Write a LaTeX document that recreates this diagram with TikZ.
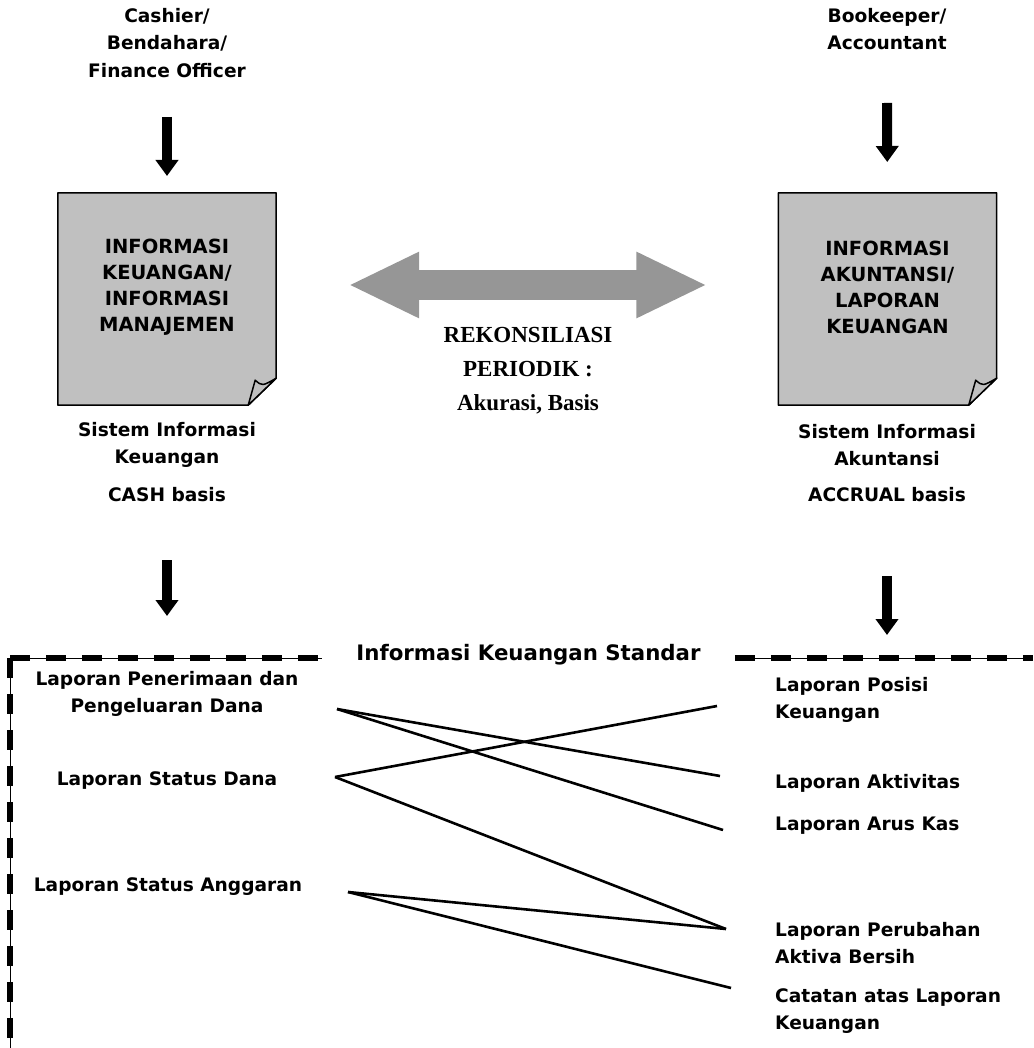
\documentclass[tikz,border=0pt]{standalone}
\usepackage{fontspec}
\setmainfont{DejaVu Sans}
\newfontfamily\reconfont{Liberation Serif}
\usepackage{xcolor}
\usepackage{tikz}
\usetikzlibrary{arrows.meta}
\usetikzlibrary{positioning}
\definecolor{docgray}{RGB}{192,192,192}
\definecolor{recongray}{RGB}{150,150,150}
\tikzstyle{role} = [font=\bfseries\fontsize{18.6}{27.5}\selectfont, align=center, inner sep=0pt]
\tikzstyle{report} = [font=\bfseries\fontsize{18.6}{27}\selectfont, align=center, inner sep=0pt]
\tikzstyle{rreport} = [report, anchor=west, align=left]
\tikzstyle{docbox} = [rectangle, minimum width=218pt, minimum height=212pt, inner sep=0pt]
\tikzstyle{doctext} = [font=\bfseries\fontsize{19.5}{26}\selectfont, align=center, inner sep=0pt]
\tikzstyle{docfill} = [fill=docgray, draw=black, line width=1.5pt, line join=round]
\tikzstyle{fatarrow} = [draw, line width=10pt, -{Triangle[width=22pt,length=16pt]}]
\tikzstyle{twinarrow} = [draw=recongray, line width=29pt,
    {Triangle[width=61pt,length=71pt]}-{Triangle[width=61pt,length=71pt]}]
\tikzstyle{link} = [draw, line width=2.6pt]
\tikzstyle{frame} = [draw, line width=1pt,
    postaction={draw, line width=5.5pt, dash pattern=on 20pt off 16pt}]
% page with a turned corner, drawn on a docbox node
\newcommand{\docpage}[1]{%
  \filldraw[docfill] (#1.north west) -- (#1.north east) -- ([yshift=27pt]#1.south east)
    -- ([xshift=-28pt]#1.south east) -- (#1.south west) -- cycle;
  \filldraw[docfill] ([xshift=-28pt]#1.south east) -- ([xshift=-21pt,yshift=25pt]#1.south east)
    .. controls ([xshift=-14pt,yshift=19pt]#1.south east) .. ([yshift=27pt]#1.south east) -- cycle;}

\begin{document}
\begin{tikzpicture}[x=1pt, y=-1pt]
  \useasboundingbox (0,0) rectangle (1033,1048);
  % Place nodes
  \node [role] (cashier) at (167,43) {Cashier/\\Bendahara/\\Finance Officer};
  \node [role] (bookkeeper) at (887,29) {Bookeeper/\\Accountant};

  \node [docbox] (kbox) at (167,299) {};
  \docpage{kbox}
  \node [doctext] (ktext) at (167,287) {INFORMASI\\KEUANGAN/\\INFORMASI\\MANAJEMEN};
  \node [docbox] (abox) at (887.5,299) {};
  \docpage{abox}
  \node [doctext] (atext) at (887.5,287) {INFORMASI\\AKUNTANSI/\\LAPORAN\\KEUANGAN};

  \node [role] (sik) at (167,445) {Sistem Informasi\\Keuangan};
  \node [role] (cash) at (167,495) {CASH basis};
  \node [role] (sia) at (887,445) {Sistem Informasi\\Akuntansi};
  \node [role] (accrual) at (887,495) {ACCRUAL basis};

  \node [font=\reconfont\bfseries\fontsize{23}{34}\selectfont, align=center, inner sep=0pt]
    (recon) at (528,371) {REKONSILIASI\\PERIODIK :\\Akurasi, Basis};

  \node [report, font=\bfseries\fontsize{21.3}{27}\selectfont, inner xsep=34pt]
    (standar) at (528.5,655) {Informasi Keuangan Standar};
  \coordinate (corner) at (10,658);
  \coordinate (leftend) at (10,1048);
  \coordinate (rightend) at (1033,658);

  \node [report] (penerimaan) at (167,694) {Laporan Penerimaan dan\\Pengeluaran Dana};
  \node [report] (statusdana) at (167,781) {Laporan Status Dana};
  \node [report] (anggaran) at (168,887) {Laporan Status Anggaran};

  \node [rreport] (posisi) at (775,699.5) {Laporan Posisi\\Keuangan};
  \node [rreport] (aktivitas) at (775,783) {Laporan Aktivitas};
  \node [rreport] (aruskas) at (775,826) {Laporan Arus Kas};
  \node [rreport] (perubahan) at (775,943) {Laporan Perubahan\\Aktiva Bersih};
  \node [rreport] (catatan) at (775,1011.5) {Catatan atas Laporan\\Keuangan};

  % line ends beside the reports
  \coordinate (penerimaan-r) at (337,709);
  \coordinate (statusdana-r) at (335,777);
  \coordinate (anggaran-r) at (348,892);
  \coordinate (posisi-l) at (717,706);
  \coordinate (aktivitas-l) at (720,776);
  \coordinate (aruskas-l) at (723,830);
  \coordinate (perubahan-l) at (726,929);
  \coordinate (catatan-l) at (731,988);

  % Draw edges
  \path [fatarrow, shorten <=74pt, shorten >=123pt] (cashier.center) -- (kbox.center);
  \path [fatarrow, shorten <=74pt, shorten >=137pt] (bookkeeper.center) -- (abox.center);
  \path [fatarrow, shorten <=65pt, shorten >=78pt] (cash.center) -- (cash.center |- penerimaan.center);
  \path [fatarrow, shorten <=81pt, shorten >=23pt] (accrual.center) -- (accrual.center |- corner);
  \path [twinarrow, shorten <=72pt, shorten >=71pt] ([yshift=14pt]kbox.east) -- ([yshift=14pt]abox.west);

  % dashed frame round the standard reports
  \path [frame] (corner) -- (standar.west |- corner);
  \path [frame] (corner) -- (leftend);
  \path [frame] (standar.east |- corner) -- (rightend);

  \path [link] (penerimaan-r) -- (aktivitas-l);
  \path [link] (penerimaan-r) -- (aruskas-l);
  \path [link] (statusdana-r) -- (posisi-l);
  \path [link] (statusdana-r) -- (perubahan-l);
  \path [link] (anggaran-r) -- (perubahan-l);
  \path [link] (anggaran-r) -- (catatan-l);
\end{tikzpicture}
\end{document}
